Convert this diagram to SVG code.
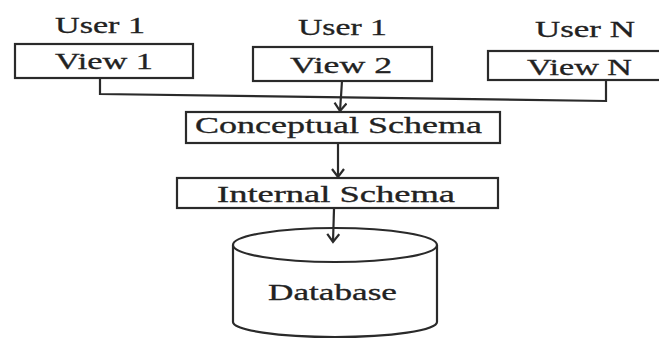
<svg xmlns="http://www.w3.org/2000/svg" width="659" height="339" viewBox="0 0 659 339">
<style>
  .box { fill: #ffffff; stroke: #2a2a2a; stroke-width: 2.2; }
  .ln { fill: none; stroke: #2a2a2a; stroke-width: 2.2; }
  .t { font-family: "Liberation Serif", "Times New Roman", serif; fill: #222; stroke: #222; stroke-width: 0.3; font-size: 23px; }
</style>
<defs>
  <marker id="arr" markerUnits="userSpaceOnUse" markerWidth="14" markerHeight="14" refX="11" refY="7" orient="auto" viewBox="0 0 14 14">
    <path d="M3,1 L11,7 L3,13" fill="none" stroke="#2a2a2a" stroke-width="2.2"/>
  </marker>
</defs>
<rect width="659" height="339" fill="#ffffff"/>

<g id="labels">
  <text class="t" x="55" y="33" textLength="90" lengthAdjust="spacingAndGlyphs">User 1</text>
  <text class="t" x="298" y="35" textLength="89" lengthAdjust="spacingAndGlyphs">User 1</text>
  <text class="t" x="535" y="37" textLength="100" lengthAdjust="spacingAndGlyphs">User N</text>
</g>

<g id="view1">
  <rect class="box" x="15" y="44" width="178" height="34"/>
  <text class="t" x="55" y="69" textLength="98" lengthAdjust="spacingAndGlyphs">View 1</text>
</g>
<g id="view2">
  <rect class="box" x="253" y="47" width="179" height="34"/>
  <text class="t" x="290" y="73" textLength="102" lengthAdjust="spacingAndGlyphs">View 2</text>
</g>
<g id="viewN">
  <rect class="box" x="488" y="51" width="175" height="29"/>
  <text class="t" x="527" y="75" textLength="105" lengthAdjust="spacingAndGlyphs">View N</text>
</g>

<g id="conceptual">
  <rect class="box" x="186" y="112" width="314" height="31"/>
  <text class="t" x="195" y="133" font-size="25" textLength="287" lengthAdjust="spacingAndGlyphs">Conceptual Schema</text>
</g>
<g id="internal">
  <rect class="box" x="177" y="178" width="321" height="30"/>
  <text class="t" x="217" y="202" font-size="25" textLength="238" lengthAdjust="spacingAndGlyphs">Internal Schema</text>
</g>
<g id="database">
  <path class="box" d="M233,245 L233,322 A102,15 0 0 0 437,322 L437,245"/>
  <ellipse class="box" cx="335" cy="245" rx="102" ry="17"/>
  <text class="t" x="268" y="300" font-size="24" textLength="129" lengthAdjust="spacingAndGlyphs">Database</text>
</g>

<g id="connectors">
  <polyline class="ln" points="100,78 100,94 606,101 606,80"/>
  <line class="ln" x1="342" y1="81" x2="340" y2="111" marker-end="url(#arr)"/>
  <line class="ln" x1="338" y1="144" x2="338" y2="177" marker-end="url(#arr)"/>
  <line class="ln" x1="334" y1="209" x2="333" y2="242" marker-end="url(#arr)"/>
</g>
</svg>
